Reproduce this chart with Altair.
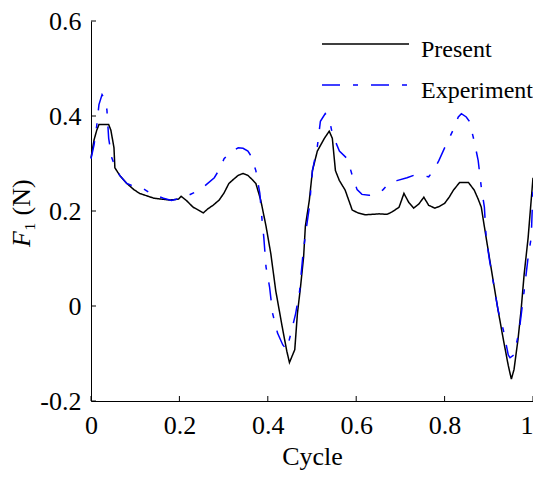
import altair as alt
import pandas as pd

# ---- data ----
present_x = [0.000, 0.007, 0.013, 0.018, 0.040, 0.045, 0.052, 0.054, 0.065, 0.081, 0.097, 0.110,
             0.126, 0.142, 0.160, 0.178, 0.198, 0.204, 0.216, 0.231, 0.243, 0.254, 0.265, 0.276,
             0.290, 0.301, 0.312, 0.324, 0.333, 0.344, 0.355, 0.366, 0.373, 0.384, 0.396, 0.407,
             0.418, 0.434, 0.443, 0.449, 0.461, 0.467, 0.474, 0.481, 0.485, 0.494, 0.501, 0.512,
             0.528, 0.539, 0.546, 0.553, 0.562, 0.575, 0.591, 0.604, 0.620, 0.636, 0.652, 0.670,
             0.681, 0.697, 0.708, 0.719, 0.730, 0.742, 0.753, 0.764, 0.778, 0.789, 0.800, 0.811,
             0.820, 0.834, 0.854, 0.867, 0.876, 0.883, 0.890, 0.899, 0.910, 0.921, 0.933, 0.944,
             0.951, 0.957, 0.966, 0.973, 0.980, 0.989, 1.000]
present_y = [0.312, 0.350, 0.370, 0.382, 0.382, 0.370, 0.333, 0.291, 0.275, 0.258, 0.245, 0.237,
             0.232, 0.227, 0.225, 0.223, 0.225, 0.231, 0.222, 0.208, 0.202, 0.196, 0.205, 0.212,
             0.223, 0.238, 0.258, 0.268, 0.275, 0.279, 0.275, 0.265, 0.258, 0.223, 0.168, 0.109,
             0.032, -0.051, -0.095, -0.119, -0.092, -0.016, 0.040, 0.103, 0.168, 0.223, 0.285, 0.326,
             0.353, 0.368, 0.353, 0.285, 0.264, 0.244, 0.202, 0.196, 0.192, 0.193, 0.194, 0.193,
             0.198, 0.208, 0.237, 0.218, 0.206, 0.215, 0.229, 0.212, 0.206, 0.210, 0.216, 0.230,
             0.244, 0.260, 0.260, 0.244, 0.225, 0.208, 0.167, 0.115, 0.053, -0.009, -0.071, -0.125,
             -0.154, -0.134, -0.071, -0.009, 0.067, 0.144, 0.270]

exp_x = [0.000, 0.007, 0.013, 0.018, 0.025, 0.031, 0.036, 0.040, 0.047, 0.056, 0.065, 0.081,
         0.097, 0.115, 0.130, 0.148, 0.164, 0.182, 0.198, 0.216, 0.236, 0.254, 0.279, 0.292,
         0.301, 0.317, 0.333, 0.344, 0.355, 0.362, 0.373, 0.382, 0.387, 0.391, 0.396, 0.404,
         0.411, 0.422, 0.434, 0.443, 0.454, 0.463, 0.472, 0.479, 0.485, 0.494, 0.501, 0.512,
         0.519, 0.530, 0.539, 0.546, 0.562, 0.580, 0.591, 0.602, 0.613, 0.629, 0.647, 0.661,
         0.674, 0.692, 0.715, 0.730, 0.748, 0.764, 0.775, 0.787, 0.800, 0.820, 0.831, 0.838,
         0.849, 0.856, 0.867, 0.876, 0.883, 0.890, 0.894, 0.902, 0.910, 0.921, 0.933, 0.944,
         0.948, 0.957, 0.969, 0.980, 0.989, 0.996, 1.000]
exp_y = [0.310, 0.340, 0.380, 0.424, 0.445, 0.435, 0.413, 0.353, 0.312, 0.290, 0.275, 0.258,
         0.252, 0.249, 0.240, 0.232, 0.227, 0.222, 0.226, 0.231, 0.240, 0.250, 0.270, 0.290,
         0.310, 0.325, 0.333, 0.332, 0.326, 0.316, 0.285, 0.237, 0.181, 0.144, 0.082, 0.040,
         -0.016, -0.057, -0.082, -0.092, -0.051, -0.016, 0.032, 0.103, 0.150, 0.208, 0.285, 0.335,
         0.389, 0.405, 0.395, 0.362, 0.326, 0.310, 0.275, 0.245, 0.235, 0.233, 0.236, 0.245,
         0.258, 0.264, 0.270, 0.275, 0.275, 0.272, 0.285, 0.306, 0.333, 0.372, 0.398, 0.405,
         0.398, 0.389, 0.347, 0.306, 0.250, 0.208, 0.144, 0.094, 0.051, -0.009, -0.051, -0.103,
         -0.109, -0.103, -0.051, 0.032, 0.103, 0.144, 0.250]

series_names = ["Present", "Experiment"]
series_colors = ["black", "blue"]
series_dash = [[1, 0], [18, 13, 5, 13]]
x_ticks = [0, 0.2, 0.4, 0.6, 0.8, 1.0]
y_ticks = [-0.2, 0, 0.2, 0.4, 0.6]

df = pd.concat([
    pd.DataFrame({"cycle": present_x, "F": present_y, "series": "Present", "order": range(len(present_x))}),
    pd.DataFrame({"cycle": exp_x, "F": exp_y, "series": "Experiment", "order": range(len(exp_x))}),
])

FONT = "Liberation Serif"
W, H = 442, 380

xscale = alt.Scale(domain=[0, 1], nice=False)
yscale = alt.Scale(domain=[-0.2, 0.6], nice=False)

lines = alt.Chart(df).mark_line(strokeWidth=1.5).encode(
    x=alt.X("cycle:Q", scale=xscale,
            axis=alt.Axis(values=x_ticks, ticks=False, labelPadding=11, title="Cycle",
                          titleY=63, titleBaseline="alphabetic", labelExpr="'' + datum.value",
                          labelAlign={"expr": "datum.value == 1 ? 'right' : 'center'"})),
    y=alt.Y("F:Q", scale=yscale,
            axis=alt.Axis(values=y_ticks, ticks=False, labelPadding=10, title=None,
                          labelExpr="'' + datum.value")),
    color=alt.Color("series:N", scale=alt.Scale(domain=series_names, range=series_colors), legend=None),
    strokeDash=alt.StrokeDash("series:N", scale=alt.Scale(domain=series_names, range=series_dash),
                              legend=None),
    order="order:Q",
)

xt = pd.DataFrame({"v": x_ticks})
yt = pd.DataFrame({"v": y_ticks})
xtick_marks = alt.Chart(xt).mark_rule(color="black", strokeWidth=1).encode(
    x=alt.X("v:Q", scale=xscale), y=alt.value(H), y2=alt.value(H - 5))
ytick_marks = alt.Chart(yt).mark_rule(color="black", strokeWidth=1).encode(
    y=alt.Y("v:Q", scale=yscale), x=alt.value(0), x2=alt.value(5))

# y-axis title: italic F with subscript 1
ytitle_f = alt.Chart(pd.DataFrame({"t": ["F"]})).mark_text(
    font=FONT, fontSize=26, fontStyle="italic", angle=270, align="right", baseline="alphabetic",
    color="black").encode(text="t:N", x=alt.value(-61), y=alt.value(210))
ytitle_rest = alt.Chart(pd.DataFrame({"t": ["\u2081 (N)"]})).mark_text(
    font=FONT, fontSize=26, angle=270, align="left", baseline="alphabetic",
    color="black").encode(text="t:N", x=alt.value(-61), y=alt.value(210))

# legend drawn in the upper right corner
LX0, LX1, LTX = 231, 318, 330
leg_layers = []
for i, (name, col, dash) in enumerate(zip(series_names, series_colors, series_dash)):
    ly = 23 + 41 * i
    d = pd.DataFrame({"t": [name]})
    leg_layers.append(alt.Chart(d).mark_rule(color=col, strokeWidth=1.5, strokeDash=dash).encode(
        x=alt.value(LX0), x2=alt.value(LX1), y=alt.value(ly)))
    leg_layers.append(alt.Chart(d).mark_text(font=FONT, fontSize=24, align="left",
                                             baseline="alphabetic", color="black").encode(
        text="t:N", x=alt.value(LTX), y=alt.value(ly + 13)))

chart = alt.layer(lines, xtick_marks, ytick_marks, ytitle_f, ytitle_rest, *leg_layers).properties(
    width=W, height=H,
    autosize=alt.AutoSizeParams(type="none"),
    padding={"left": 83, "top": 13, "right": 0, "bottom": 70},
).configure_view(stroke=None).configure_axis(
    grid=False, domainColor="black", domainWidth=1,
    labelFont=FONT, labelFontSize=26, labelColor="black",
    titleFont=FONT, titleFontSize=26, titleColor="black", titleFontWeight="normal",
).configure_axisX(labelFlush=False)

chart.save("out.html", embed_options={"renderer": "svg", "actions": False})
